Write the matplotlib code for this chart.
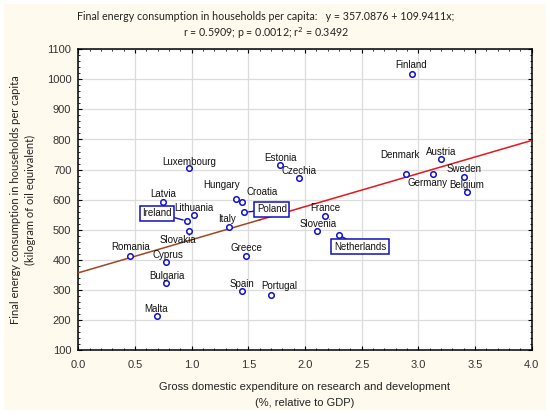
import matplotlib
matplotlib.use("Agg")
import matplotlib.pyplot as plt
from matplotlib.patches import Rectangle
from matplotlib.ticker import MultipleLocator
import numpy as np

countries = ["Finland", "Denmark", "Austria", "Germany", "Sweden", "Belgium",
             "France", "Slovenia", "Czechia", "Luxembourg", "Estonia", "Hungary",
             "Croatia", "Latvia", "Poland", "Lithuania", "Ireland", "Slovakia",
             "Italy", "Romania", "Cyprus", "Bulgaria", "Malta", "Greece", "Spain",
             "Portugal", "Netherlands"]
gerd = [2.94, 2.89, 3.20, 3.13, 3.40, 3.43,
        2.18, 2.11, 1.95, 0.98, 1.78, 1.39,
        1.44, 0.75, 1.46, 1.02, 0.96, 0.98,
        1.33, 0.46, 0.77, 0.77, 0.69, 1.48, 1.44,
        1.70, 2.30]
energy = [1018, 684, 735, 684, 675, 625,
          546, 496, 673, 704, 716, 603,
          593, 592, 558, 549, 529, 496,
          508, 414, 394, 322, 215, 413, 297,
          283, 483]
intercept = 357.0876
slope = 109.9411

# label offsets in pixels (dx, dy) relative to marker; boxed labels flagged
label_off = {
    "Finland": (0, 9), "Denmark": (-6, 19), "Austria": (0, 7), "Germany": (-6, -9),
    "Sweden": (0, 8), "Belgium": (0, 7), "France": (0, 8), "Slovenia": (1, 7),
    "Czechia": (0, 7), "Luxembourg": (0, 6), "Estonia": (0, 7), "Hungary": (-14, 14),
    "Croatia": (21, 10), "Latvia": (0, 8), "Poland": (28, 3), "Lithuania": (0, 7),
    "Ireland": (-30, 8), "Slovakia": (-12, -9), "Italy": (-2, 8), "Romania": (0, 9),
    "Cyprus": (2, 7), "Bulgaria": (1, 7), "Malta": (0, 7), "Greece": (0, 8),
    "Spain": (0, 7), "Portugal": (8, 9), "Netherlands": (21, -12),
}
boxed = {"Ireland", "Poland", "Netherlands"}
dashed = {"Poland", "Netherlands"}

W, H = 550, 418
fig = plt.figure(figsize=(W / 100, H / 100), dpi=100, facecolor="white")
fig.patches.append(Rectangle((4 / W, 1 - 410 / H), 542 / W, 406 / H,
                             transform=fig.transFigure, facecolor="#fffaee",
                             edgecolor="none", zorder=-5))
ax = fig.add_axes([78.3 / W, 1 - 350.2 / H, 453.4 / W, 301.0 / H])
ax.set_facecolor("white")
ax.set_xlim(0, 4.0)
ax.set_ylim(100, 1100)
ax.xaxis.set_major_locator(MultipleLocator(0.5))
ax.xaxis.set_minor_locator(MultipleLocator(0.1))
ax.yaxis.set_major_locator(MultipleLocator(100))
ax.yaxis.set_minor_locator(MultipleLocator(20))
ax.xaxis.set_major_formatter(matplotlib.ticker.FormatStrFormatter("%.1f"))
ax.grid(True, which="major", color="#dcdcdc", linewidth=0.9)
ax.set_axisbelow(True)
for s in ax.spines.values():
    s.set_linewidth(1.1)
    s.set_color("black")
ax.tick_params(which="both", direction="in", top=True, right=True,
               labelsize=8, colors="black", labelcolor="#333333")
ax.tick_params(which="major", length=3)
ax.tick_params(axis="x", which="major", pad=7)
ax.tick_params(axis="y", which="major", pad=5)
ax.tick_params(which="minor", length=1.5)
for lab in ax.get_xticklabels() + ax.get_yticklabels():
    lab.set_family("Liberation Sans")

# regression line
xl = np.array([0.0, 1.6])
ax.plot(xl, intercept + slope * xl, color="#a0461e", lw=1.1, zorder=3)
xr = np.array([1.6, 4.0])
ax.plot(xr, intercept + slope * xr, color="#e8141e", lw=1.1, zorder=3)

ax.scatter(gerd, energy, s=16, facecolors="white", edgecolors="#1010d0",
           linewidths=1.1, zorder=5)

for c, x, y in zip(countries, gerd, energy):
    dx, dy = label_off[c]
    if c in boxed:
        ax.annotate(c, (x, y), xytext=(dx, dy), textcoords="offset pixels",
                    ha="center", va="center", fontsize=7, family="Liberation Sans",
                    color="#111111", zorder=6,
                    bbox=dict(boxstyle="square,pad=0.25", fc="white", ec="#1010c0", lw=1.1),
                    arrowprops=dict(arrowstyle="-", color="#1010c0", lw=1.0,
                                    linestyle="--" if c in dashed else "-",
                                    shrinkA=0, shrinkB=3))
    else:
        ax.annotate(c, (x, y), xytext=(dx, dy), textcoords="offset pixels",
                    ha="center", va="center", fontsize=7, family="Liberation Sans",
                    color="#111111", zorder=6)

ax.set_xlabel("Gross domestic expenditure on research and development\n(%, relative to GDP)",
              fontsize=8, family="Liberation Sans", color="#222222", labelpad=9,
              linespacing=1.7)
ax.set_ylabel("Final energy consumption in households per capita\n(kilogram of oil equivalent)",
              fontsize=8, family="Lato", color="#222222", labelpad=8, linespacing=1.45)
fig.text(0.5 * (76 + 456) / W, 1 - 17 / H,
         "Final energy consumption in households per capita:   y = 357.0876 + 109.9411x;",
         ha="center", va="center", fontsize=7.7, family="Lato", color="#222222")
fig.text(0.5 * (76 + 456) / W, 1 - 33 / H,
         "r = 0.5909; p = 0.0012; r$^2$ = 0.3492",
         ha="center", va="center", fontsize=7.7, family="Lato", color="#222222")

fig.savefig("out.png", dpi=100, facecolor=fig.get_facecolor())
